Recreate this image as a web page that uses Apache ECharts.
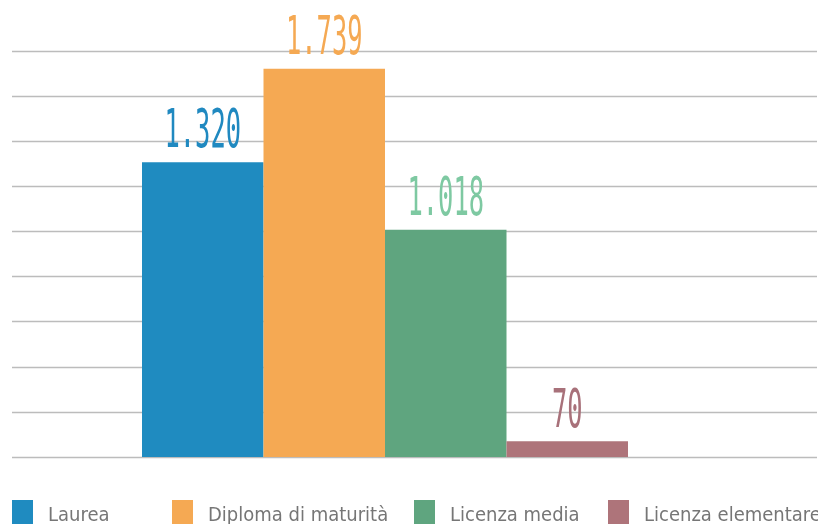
<!DOCTYPE html>
<html>
<head>
<meta charset="utf-8">
<script src="https://cdn.jsdelivr.net/npm/echarts@6/dist/echarts.min.js"></script>
<style>html,body{margin:0;padding:0;background:#fff}#c{width:818px;height:524px}</style>
</head>
<body>
<div id="c"></div>
<script>
const categories = ['Laurea', 'Diploma di maturità', 'Licenza media', 'Licenza elementare'];
const values = [1320, 1739, 1018, 70];
const barColors = ['#1f8bc0', '#f5a953', '#5fa57f', '#ae747a'];
const labelColors = ['#2089c0', '#f5a953', '#7ec9a2', '#a8717a'];
const axisMax = 1818;
const axisStep = 202;

function fmt(v) { return String(v).replace(/\B(?=(\d{3})+(?!\d))/g, '.'); }

const chart = echarts.init(document.getElementById('c'), null, { renderer: 'canvas' });
const legendLefts = [12, 172, 414, 608];
const legendFont = "'DejaVu Sans Condensed', 'DejaVu Sans', sans-serif";
const labelFont = "'DejaVu Sans Mono', monospace";

const option = {
  backgroundColor: '#fff',
  animation: false,
  grid: [
    { left: 12, right: 1, top: 51, bottom: 67 },
    { left: 142, right: 190, top: 51, bottom: 67 }
  ],
  xAxis: [
    { type: 'category', gridIndex: 0, data: [''], axisLine: { show: false }, axisTick: { show: false }, axisLabel: { show: false } },
    { type: 'category', gridIndex: 1, data: [''], axisLine: { show: false }, axisTick: { show: false }, axisLabel: { show: false } }
  ],
  yAxis: [
    { type: 'value', gridIndex: 0, min: 0, max: axisMax, interval: axisStep,
      axisLabel: { show: false }, axisLine: { show: false }, axisTick: { show: false },
      splitLine: { show: true, lineStyle: { color: '#bcbcbc', width: 1.3 } } },
    { type: 'value', gridIndex: 1, min: 0, max: axisMax, interval: axisStep,
      axisLabel: { show: false }, axisLine: { show: false }, axisTick: { show: false },
      splitLine: { show: false } }
  ],
  legend: categories.map((name, i) => ({
    data: [name],
    left: legendLefts[i],
    top: 500,
    padding: 0,
    icon: 'rect',
    itemWidth: 21,
    itemHeight: 24,
    itemGap: 15,
    selectedMode: false,
    formatter: '{t|{name}}',
    textStyle: {
      color: '#767676', fontSize: 20, fontFamily: legendFont,
      rich: { t: { color: '#767676', fontSize: 20, fontFamily: legendFont, padding: [8, 0, 0, 10] } }
    }
  })),
  series: categories.map((name, i) => ({
    name: name,
    type: 'bar',
    xAxisIndex: 1,
    yAxisIndex: 1,
    data: [values[i]],
    barWidth: 121.5,
    barGap: '0%',
    itemStyle: { color: barColors[i] }
  })).concat([{
    name: 'labels',
    type: 'custom',
    xAxisIndex: 1,
    yAxisIndex: 1,
    z: 10,
    data: values.map((v, i) => [0, v, i]),
    renderItem: function (params, api) {
      const cat = api.value(0), v = api.value(1), i = api.value(2);
      const p = api.coord([cat, v]);
      const band = api.size([1, 0])[0];
      const x = p[0] - band / 2 + band * (i + 0.5) / categories.length;
      return {
        type: 'text',
        x: x,
        y: p[1] - 2,
        scaleX: 0.48,
        style: {
          text: fmt(v),
          fill: labelColors[i],
          fontSize: 53,
          fontFamily: labelFont,
          align: 'center',
          verticalAlign: 'bottom'
        }
      };
    }
  }])
};
chart.setOption(option);
</script>
</body>
</html>
